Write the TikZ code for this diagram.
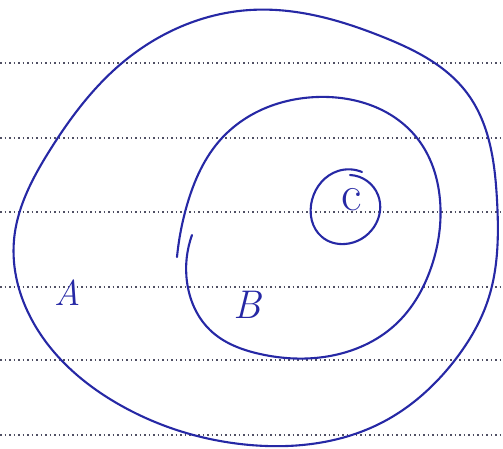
\documentclass[tikz,border=0pt]{standalone}
\usepackage{fontspec}
\usetikzlibrary{hobby}
\begin{document}
\begin{tikzpicture}[x=1pt,y=-1pt,
  ink/.style={draw=inkblue,line width=2.1pt,line cap=round,line join=round},
  rule/.style={draw=rulegray,line width=1.4pt,dash pattern=on 1.5pt off 3pt},
  lbl/.style={text=inkblue,inner sep=0pt}]
\definecolor{inkblue}{RGB}{38,40,165}
\definecolor{rulegray}{RGB}{80,80,100}
\useasboundingbox[fill=white] (0,0) rectangle (503,449);
% ruled lines
\foreach \yy in {63,138,212,287,360,435}
  \draw[rule] (0,\yy) -- (503,\yy);
% outer region A
\draw[ink,use Hobby shortcut,closed=true]
  (250,10) .. (383,37) .. (467,93) .. (497,200) .. (488,300) .. (455,360) .. (383,422)
  .. (250,445) .. (120,405) .. (33,322) .. (14,240) .. (50,150) .. (122,63);
% region B
\draw[ink,use Hobby shortcut]
  (177,257) .. (187,205) .. (222,138) .. (317,97) .. (417,138) .. (440,200)
  .. (432,265) .. (395,325) .. (330,356) .. (260,354) .. (210,330) .. (187,282) .. (192,235);
% region C
\draw[ink,use Hobby shortcut]
  (362,172) .. (338,171) .. (312,200) .. (322,237) .. (345,244) .. (374,227)
  .. (378,195) .. (350,175);
\node[lbl,font=\itshape\fontsize{36}{38}\selectfont] (A) at (68,293) {A};
\node[lbl,font=\itshape\fontsize{40}{42}\selectfont] (B) at (247,305) {B};
\node[lbl,font=\fontsize{50}{52}\selectfont] (C) at (352,200) {c};
\end{tikzpicture}
\end{document}
